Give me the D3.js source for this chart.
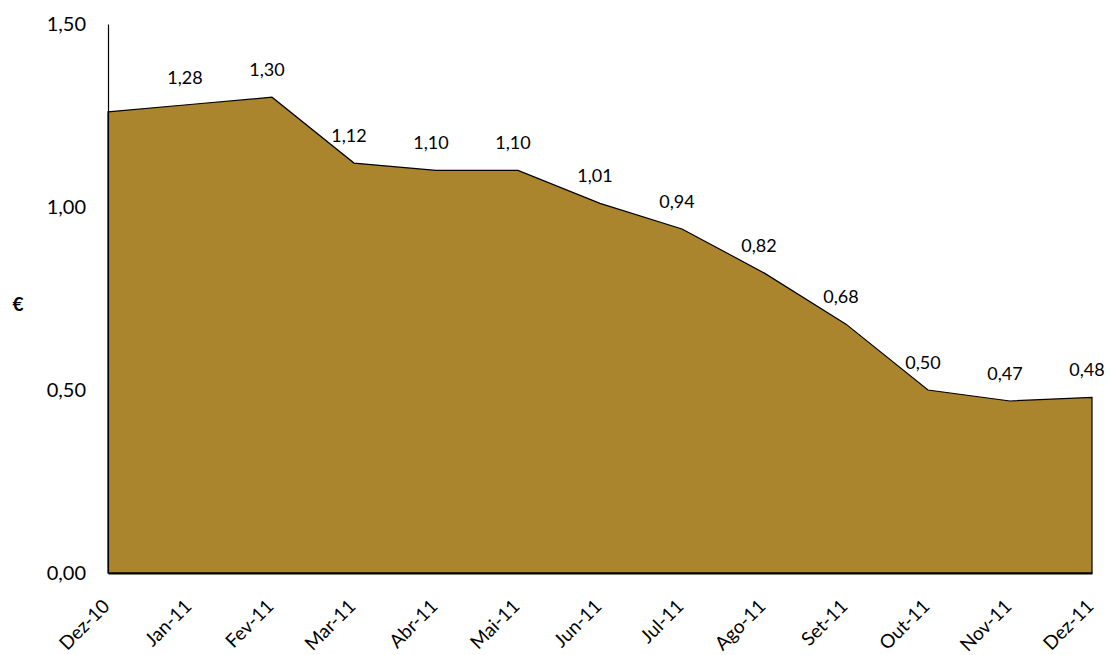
<!DOCTYPE html>
<html>
<head>
<meta charset="utf-8">
<script src="https://cdn.jsdelivr.net/npm/d3@7"></script>
<style>
  body { margin: 0; background: #fff; }
  text { font-family: Lato, "Open Sans", sans-serif; fill: #000; }
</style>
</head>
<body>
<div id="row"></div>
<script>
// chart data
var months = ["Dez-10", "Jan-11", "Fev-11", "Mar-11", "Abr-11", "Mai-11", "Jun-11",
              "Jul-11", "Ago-11", "Set-11", "Out-11", "Nov-11", "Dez-11"];
var prices = [1.26, 1.28, 1.30, 1.12, 1.10, 1.10, 1.01, 0.94, 0.82, 0.68, 0.50, 0.47, 0.48];
var yTicks = [0, 0.5, 1.0, 1.5];

var svgWidth = 1112;
var svgHeight = 655;

var margin = { top: 24, right: 20, bottom: 82, left: 108 };
var width = 1092 - margin.left;
var height = 573 - margin.top;

var fmt = function (v) { return d3.format(".2f")(v).replace(".", ","); };

var svg = d3.select("#row")
  .append("svg")
  .attr("width", svgWidth)
  .attr("height", svgHeight);

var chartGroup = svg.append("g")
  .attr("transform", `translate(${margin.left}, ${margin.top})`);

var xScale = d3.scalePoint()
  .domain(months)
  .range([0, width]);

var yScale = d3.scaleLinear()
  .domain([0, 1.5])
  .range([height, 0]);

// area
var area = d3.area()
  .x((d, i) => xScale(months[i]))
  .y0(height)
  .y1(d => yScale(d));

chartGroup.append("path")
  .datum(prices)
  .attr("d", area)
  .attr("fill", "#aa852e")
  .attr("stroke", "#000")
  .attr("stroke-width", 1.2);

// axes
var leftAxis = d3.axisLeft(yScale)
  .tickValues(yTicks)
  .tickSize(0)
  .tickPadding(22)
  .tickFormat(fmt);

var yAxis = chartGroup.append("g").call(leftAxis);
yAxis.select(".domain").attr("stroke", "#000").attr("stroke-width", 1.2);
yAxis.selectAll("text").style("font-size", "20px");

var bottomAxis = d3.axisBottom(xScale)
  .tickSize(0)
  .tickPadding(0);

var xAxis = chartGroup.append("g")
  .attr("transform", `translate(0, ${height})`)
  .call(bottomAxis);
xAxis.select(".domain").attr("stroke", "#000").attr("stroke-width", 2);
xAxis.selectAll("text")
  .style("font-size", "19px")
  .attr("text-anchor", "end")
  .attr("dy", "0.7em")
  .attr("transform", "translate(-7, 25) rotate(-45)");

// data labels (first point has none)
chartGroup.selectAll(".lbl")
  .data(prices.slice(1))
  .enter()
  .append("text")
  .attr("class", "lbl")
  .attr("x", (d, i) => xScale(months[i + 1]) - 5)
  .attr("y", d => yScale(d) - 21)
  .attr("text-anchor", "middle")
  .style("font-size", "18px")
  .text(d => fmt(d));

// y title
svg.append("text")
  .attr("x", 18)
  .attr("y", 311)
  .attr("text-anchor", "middle")
  .style("font-size", "19px")
  .style("font-weight", "bold")
  .text("€");
</script>
</body>
</html>
